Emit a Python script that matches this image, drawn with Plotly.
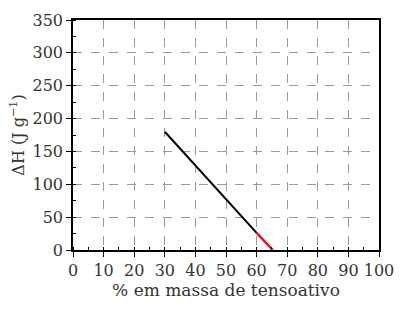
import plotly.graph_objects as go

# data
black_x = [30, 60]
black_y = [180, 26]
red_x = [60, 65.3]
red_y = [26, 0]
x_ticks = [0, 10, 20, 30, 40, 50, 60, 70, 80, 90, 100]
y_ticks = [0, 50, 100, 150, 200, 250, 300, 350]

FONT = "DejaVu Serif, serif"

fig = go.Figure()
fig.add_trace(go.Scatter(x=black_x, y=black_y, mode="lines",
                         line=dict(color="black", width=2), showlegend=False))
fig.add_trace(go.Scatter(x=red_x, y=red_y, mode="lines",
                         line=dict(color="#e8141b", width=2.5), showlegend=False))

axis_common = dict(
    showline=True, linecolor="black", linewidth=1.5, mirror=True,
    ticks="outside", ticklen=5, tickwidth=1.3, tickcolor="black",
    showgrid=True, gridcolor="#9a9a9a", griddash="dash", gridwidth=1,
    zeroline=False,
    tickfont=dict(family=FONT, size=16, color="#333"),
)

fig.update_xaxes(
    range=[0, 100], tickvals=x_ticks, ticktext=[str(v) for v in x_ticks],
    minor=dict(dtick=5, ticks="inside", ticklen=3, tickcolor="black", showgrid=False),
    title=dict(text="% em massa de tensoativo", font=dict(family=FONT, size=17, color="#333"), standoff=5),
    **axis_common,
)
fig.update_yaxes(
    range=[0, 350], tickvals=y_ticks, ticktext=[str(v) for v in y_ticks],
    minor=dict(dtick=25, ticks="inside", ticklen=3, tickcolor="black", showgrid=False),
    title=dict(text="ΔH (J g<sup>−1</sup>)", font=dict(family=FONT, size=16, color="#333"), standoff=4),
    **axis_common,
)

fig.update_layout(
    width=418, height=322,
    margin=dict(l=73, r=39, t=20, b=72),
    plot_bgcolor="white", paper_bgcolor="white",
)

fig.write_html("out.html")
